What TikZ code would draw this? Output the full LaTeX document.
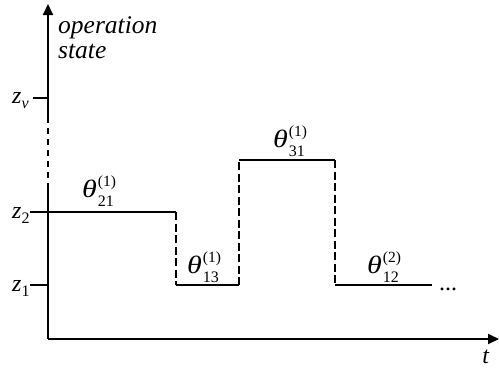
\documentclass[tikz,border=0pt]{standalone}
\usepackage{graphicx}
\usepackage{fontspec}
\setmainfont{Liberation Serif}
\usetikzlibrary{arrows.meta}
\newcommand{\supfont}{\fontsize{15.5}{15.5}\selectfont}
\newcommand{\subfont}{\fontsize{16}{16}\selectfont}
\newcommand{\thlab}[2]{\scalebox{1.2}[1]{\textit{θ}}\hspace{1pt}\rlap{\raisebox{10.5pt}{\supfont(#1)}}\raisebox{-9.5pt}{\subfont #2}}
\begin{document}
\begin{tikzpicture}[x=1pt,y=-1pt,
  axis/.style={line width=2pt,-{Triangle[length=11pt,width=10pt]}},
  solidln/.style={line width=1.8pt},
  dashln/.style={line width=2.8pt,dash pattern=on 8pt off 3.5pt},
  axdash/.style={line width=1.6pt,dash pattern=on 6pt off 5pt},
  lab/.style={font=\fontsize{24}{26}\selectfont, inner sep=0pt},
  oslab/.style={font=\fontsize{25.5}{25.5}\selectfont\itshape, inner sep=0pt, anchor=base west},
  thl/.style={font=\fontsize{25}{25}\selectfont, inner sep=0pt, anchor=base west}]
\useasboundingbox (0,0) rectangle (499,372);
\coordinate (O) at (48,339);
\coordinate (ytop) at (48,4);
\coordinate (xend) at (499,339);
\coordinate (ya) at (48,117);
\coordinate (yb) at (48,188);
\draw[axis] (ya) -- (ytop);
\draw[axdash] (ya) -- (yb);
\draw[solidln] (yb) -- (O);
\draw[axis] (O) -- (xend);
% ticks
\coordinate (zvt) at (33,98);
\coordinate (zva) at (48,98);
\draw[solidln] (zvt) -- (zva);
\coordinate (z2t) at (30,212);
\coordinate (p1) at (176,212);
\coordinate (p2) at (176,285);
\coordinate (p3) at (239,285);
\coordinate (p4) at (239,160);
\coordinate (p5) at (335,160);
\coordinate (p6) at (335,285);
\coordinate (p7) at (432,285);
\coordinate (z1t) at (30,285);
\coordinate (z1a) at (48,285);
\draw[solidln] (z2t) -- (p1);
\draw[dashln] (p1) -- (p2);
\draw[solidln] (p2) -- (p3);
\draw[dashln] (p3) -- (p4);
\draw[solidln] (p4) -- (p5);
\draw[dashln] (p5) -- (p6);
\draw[solidln] (p6) -- (p7);
\draw[solidln] (z1t) -- (z1a);
\node[lab,anchor=base west] (zv) at (12,103) {\textit{z}\raisebox{-5pt}{\fontsize{16}{16}\selectfont\textit{v}}};
\node[lab,anchor=base west] (z2) at (12,218) {\textit{z}\raisebox{-5pt}{\fontsize{16}{16}\selectfont 2}};
\node[lab,anchor=base west] (z1) at (12,291) {\textit{z}\raisebox{-5pt}{\fontsize{16}{16}\selectfont 1}};
\node[oslab] (os1) at (58,34) {operation};
\node[oslab] (os2) at (58,59) {state};
\node[lab,anchor=base] (t) at (486,363) {\textit{t}};
\node[lab,anchor=base] (dots) at (448,290) {...};
\node[thl] (a) at (82,197) {\thlab{1}{21}};
\node[thl] (b) at (187,273) {\thlab{1}{13}};
\node[thl] (c) at (273,147) {\thlab{1}{31}};
\node[thl] (d) at (367,273) {\thlab{2}{12}};
\end{tikzpicture}
\end{document}
